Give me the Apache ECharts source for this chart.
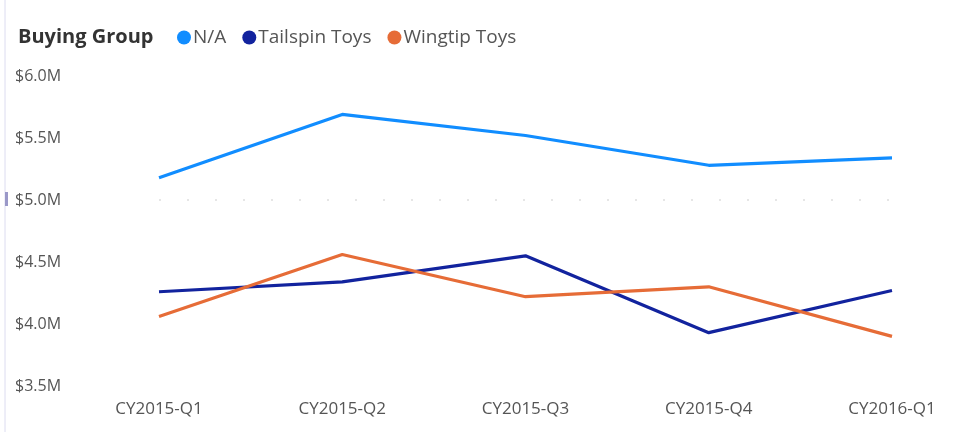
<!DOCTYPE html>
<html>
<head>
<meta charset="utf-8">
<script src="https://cdn.jsdelivr.net/npm/echarts@6/dist/echarts.min.js"></script>
<style>
  html, body { margin: 0; padding: 0; background: #fff; }
  #main { width: 964px; height: 432px; }
</style>
</head>
<body>
<div id="main"></div>
<script>
var quarters = ['CY2015-Q1', 'CY2015-Q2', 'CY2015-Q3', 'CY2015-Q4', 'CY2016-Q1'];
var naSales = [5.18, 5.69, 5.52, 5.28, 5.34];
var tailspinSales = [4.26, 4.34, 4.55, 3.93, 4.27];
var wingtipSales = [4.06, 4.56, 4.22, 4.30, 3.90];
var groupNames = ['N/A', 'Tailspin Toys', 'Wingtip Toys'];
var groupColors = ['#118DFF', '#12239E', '#E66C37'];

var dom = document.getElementById('main');
var myChart = echarts.init(dom);
var font = 'Open Sans';

function lineSeries(i, values) {
    return {
        name: groupNames[i],
        type: 'line',
        data: values,
        symbol: 'none',
        lineStyle: { width: 3.2, color: groupColors[i] },
        itemStyle: { color: groupColors[i] },
        animation: false
    };
}

var option = {
    textStyle: { fontFamily: font },
    title: {
        text: 'Buying Group',
        left: 13,
        top: 22,
        textStyle: { fontFamily: font, fontSize: 20, fontWeight: 'bold', color: '#333' }
    },
    legend: {
        data: groupNames,
        left: 172,
        top: 23,
        icon: 'circle',
        itemWidth: 14,
        itemHeight: 14,
        itemGap: 16,
        textStyle: { fontFamily: font, fontSize: 19, color: '#555', padding: [0, 0, 0, -3] }
    },
    grid: { left: 159, right: 72, top: 76, bottom: 46 },
    xAxis: {
        type: 'category',
        data: quarters,
        boundaryGap: false,
        axisLine: { show: false },
        axisTick: { show: false },
        axisLabel: { color: '#555', fontSize: 17, margin: 15, fontFamily: font }
    },
    yAxis: {
        type: 'value',
        min: 3.5,
        max: 6.0,
        interval: 0.5,
        axisLine: { show: false },
        axisTick: { show: false },
        axisLabel: {
            align: 'left',
            margin: 144,
            color: '#555',
            fontSize: 16,
            fontFamily: font,
            formatter: function (v) { return '$' + v.toFixed(1) + 'M'; }
        },
        splitLine: {
            show: true,
            lineStyle: {
                type: [2, 26],
                width: 2,
                color: ['rgba(0,0,0,0)', 'rgba(0,0,0,0)', 'rgba(0,0,0,0)', '#e6e6e6', 'rgba(0,0,0,0)', 'rgba(0,0,0,0)']
            }
        }
    },
    graphic: [
        { type: 'line', shape: { x1: 5, y1: 0, x2: 5, y2: 432 }, style: { stroke: '#dcdcf0', lineWidth: 1 } },
        { type: 'rect', shape: { x: 5, y: 192, width: 3, height: 14 }, style: { fill: '#9a98c8' } }
    ],
    series: [
        lineSeries(0, naSales),
        lineSeries(1, tailspinSales),
        lineSeries(2, wingtipSales)
    ]
};

if (option && typeof option === 'object') {
    myChart.setOption(option, true);
}
</script>
</body>
</html>
